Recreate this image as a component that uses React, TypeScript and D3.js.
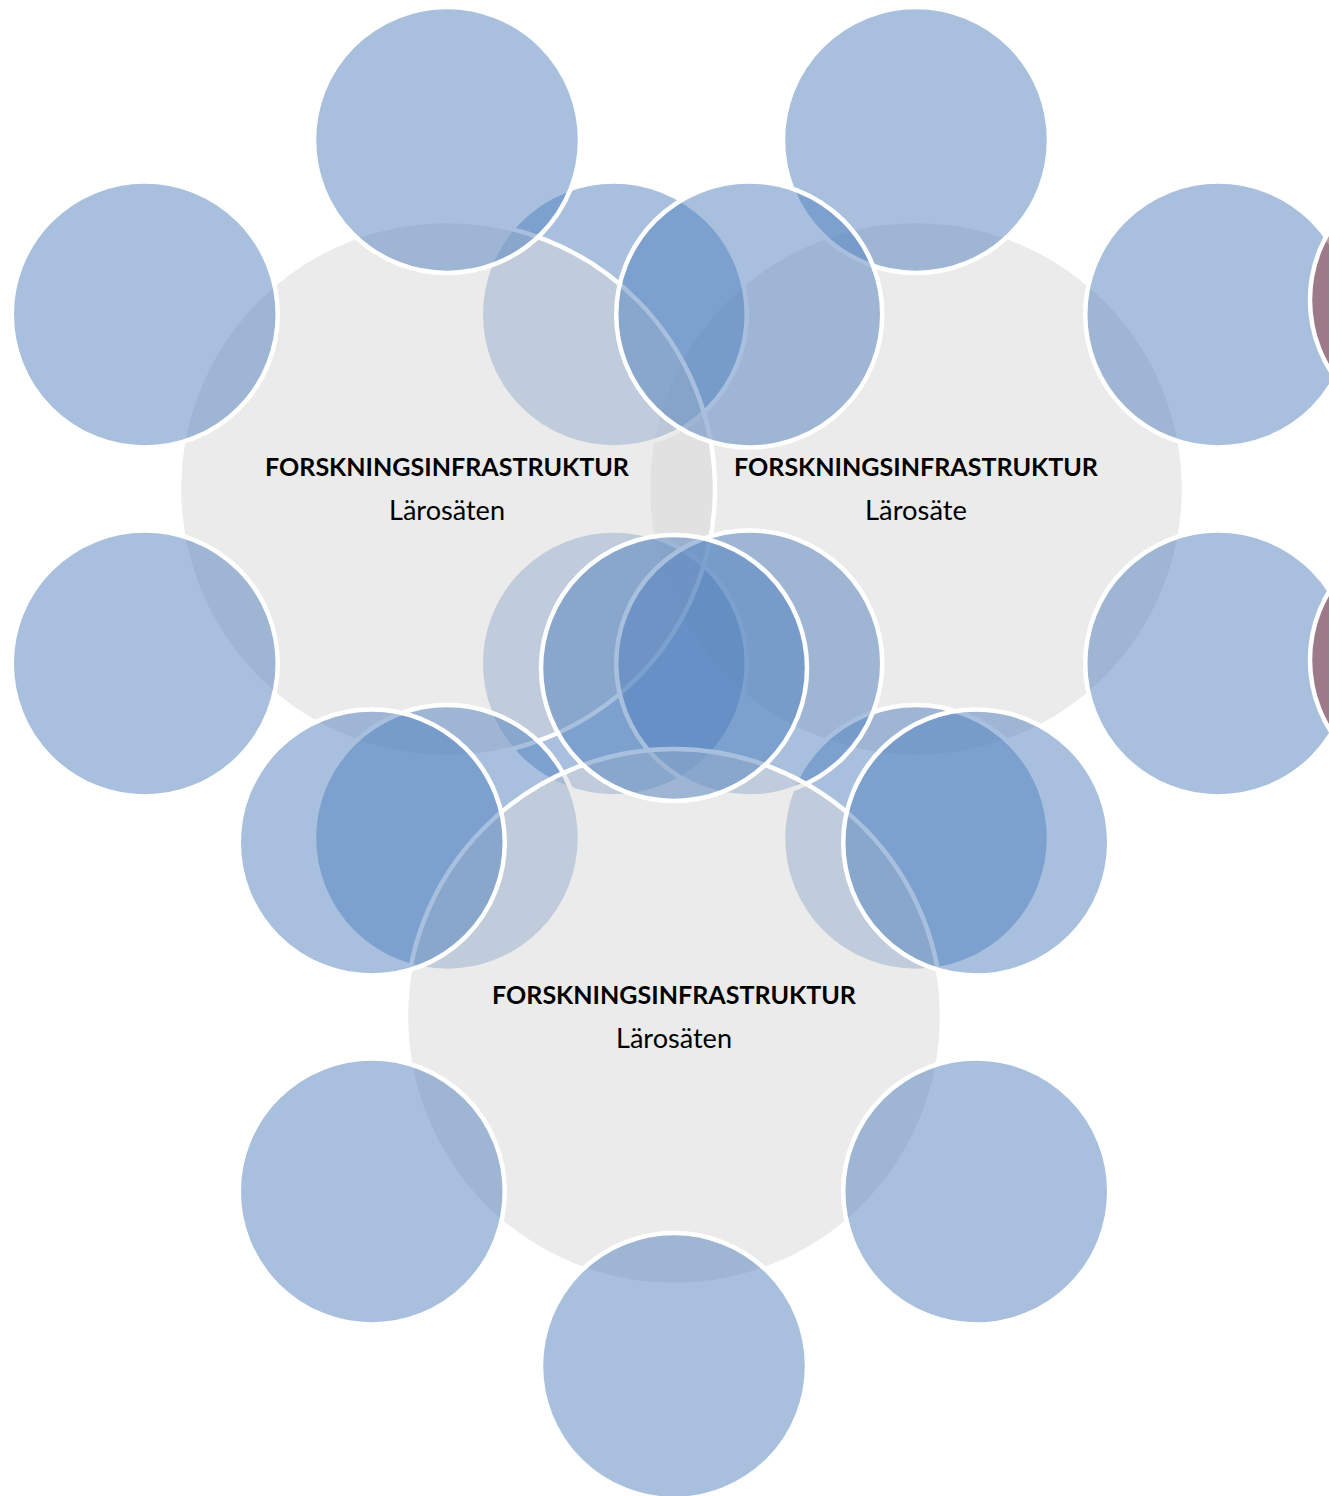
import React from "react";
import * as d3 from "d3";

// ---- content ----
const HUB_TITLES = ["FORSKNINGSINFRASTRUKTUR", "FORSKNINGSINFRASTRUKTUR", "FORSKNINGSINFRASTRUKTUR"];
const HUB_SUBTITLES = ["Lärosäten", "Lärosäte", "Lärosäten"];
const HUB_IDS = ["left", "right", "bottom"];
// number of satellite circles around each hub
const SATELLITE_COUNTS = [6, 6, 6];
// drawing order of the hubs (back to front)
const DRAW_ORDER = ["right", "left", "bottom"];
// two extra (cut off) circles at the right edge
const EXTRA_IDS = ["extraTop", "extraBottom"];

// ---- layout ----
const W = 1329;
const H = 1496;
const HUB_R = 268;
const SAT_R = 133;
const ORBIT = 349;
const hubCenter: Record<string, [number, number]> = {
  left: [447, 489],
  right: [916, 489],
  bottom: [674, 1017],
};
const extraCenter: Record<string, [number, number]> = {
  extraTop: [1443, 300],
  extraBottom: [1443, 660],
};

const HUB_FILL = "#D7D7D7";
const SAT_FILL = "#5181BD";
const EXTRA_FILL = "#903432";
const STROKE = "#FFFFFF";
const SW = 4.5;

const TITLE_LEN = 364;
const SUB_LEN: Record<string, number> = { "Lärosäten": 116, "Lärosäte": 102 };

export default function App() {
  const hubs = HUB_IDS.map((id, i) => ({
    id,
    title: HUB_TITLES[i],
    subtitle: HUB_SUBTITLES[i],
    n: SATELLITE_COUNTS[i],
  }));
  const ordered = DRAW_ORDER.map((id) => hubs.find((h) => h.id === id)!);
  const angle = (n: number) => d3.scaleLinear().domain([0, n]).range([0, 2 * Math.PI]);

  return (
    <svg
      width={W}
      height={H}
      viewBox={`0 0 ${W} ${H}`}
      style={{ position: "absolute", left: 0, top: 0, display: "block" }}
    >
      <rect width={W} height={H} fill="#FFFFFF" />
      {ordered.map((h) => {
        const [cx, cy] = hubCenter[h.id];
        const a = angle(h.n);
        return (
          <g key={h.id}>
            <circle cx={cx} cy={cy} r={HUB_R} fill={HUB_FILL} fillOpacity={0.5} stroke={STROKE} strokeWidth={SW} />
            {d3.range(h.n).map((k) => {
              const [dx, dy] = d3.pointRadial(a(k), ORBIT);
              return (
                <circle
                  key={k}
                  cx={cx + dx}
                  cy={cy + dy}
                  r={SAT_R}
                  fill={SAT_FILL}
                  fillOpacity={0.5}
                  stroke={STROKE}
                  strokeWidth={SW}
                />
              );
            })}
          </g>
        );
      })}
      {EXTRA_IDS.map((id) => {
        const [cx, cy] = extraCenter[id];
        return (
          <circle key={id} cx={cx} cy={cy} r={SAT_R} fill={EXTRA_FILL} fillOpacity={0.5} stroke={STROKE} strokeWidth={SW} />
        );
      })}
      {hubs.map((h) => {
        const [cx, cy] = hubCenter[h.id];
        return (
          <g key={"t" + h.id} textAnchor="middle" fill="#000000">
            <text
              x={cx}
              y={cy - 13}
              fontFamily="Lato, 'Open Sans', sans-serif"
              fontWeight={700}
              fontSize={24}
              textLength={TITLE_LEN}
              lengthAdjust="spacingAndGlyphs"
            >
              {h.title}
            </text>
            <text
              x={cx}
              y={cy + 31}
              fontFamily="Lato, 'Open Sans', sans-serif"
              fontWeight={400}
              fontSize={26}
              textLength={SUB_LEN[h.subtitle]}
              lengthAdjust="spacingAndGlyphs"
            >
              {h.subtitle}
            </text>
          </g>
        );
      })}
    </svg>
  );
}
